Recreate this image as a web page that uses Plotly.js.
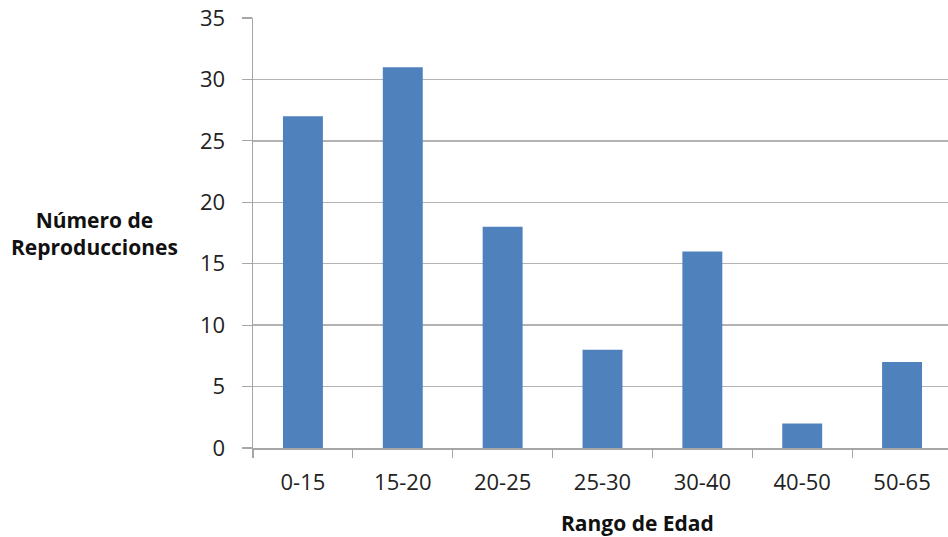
<!DOCTYPE html>
<html>
<head>
<meta charset="utf-8">
<script src="https://cdn.plot.ly/plotly-3.0.1.min.js"></script>
<style>
  html, body { margin: 0; padding: 0; background: #fff; }
  #chart { width: 948px; height: 537px; }
</style>
</head>
<body>
<div id="chart"></div>
<script>
// Age ranges and number of reproductions per range
const rangos = ['0-15', '15-20', '20-25', '25-30', '30-40', '40-50', '50-65'];
const reproducciones = [27, 31, 18, 8, 16, 2, 7];
const yTicks = [0, 5, 10, 15, 20, 25, 30, 35];

const fontFamily = 'Open Sans, Lato, sans-serif';

const trace = {
  type: 'bar',
  x: rangos,
  y: reproducciones,
  marker: { color: '#4F81BD' },
  hoverinfo: 'x+y'
};

const layout = {
  width: 948,
  height: 537,
  margin: { l: 253, r: 0, t: 18, b: 89, pad: 0 },
  paper_bgcolor: '#ffffff',
  plot_bgcolor: '#ffffff',
  showlegend: false,
  bargap: 0.6,
  font: { family: fontFamily, size: 22, color: '#222222' },
  xaxis: {
    type: 'category',
    // the last category runs slightly past the right edge of the page
    range: [-0.5, 6.46],
    showgrid: false,
    showline: true,
    linecolor: '#a6a6a6',
    linewidth: 1.5,
    ticks: 'outside',
    tickson: 'boundaries',
    ticklen: 8,
    tickcolor: '#a6a6a6',
    tickwidth: 1.2,
    ticklabelstandoff: 14,
    tickfont: { family: fontFamily, size: 22, color: '#222222' },
    zeroline: false
  },
  yaxis: {
    range: [0, 35],
    tickmode: 'array',
    tickvals: yTicks,
    ticktext: yTicks.map(String),
    showgrid: true,
    gridcolor: '#b3b3b3',
    gridwidth: 1.5,
    showline: true,
    linecolor: '#a6a6a6',
    linewidth: 1.5,
    ticks: 'outside',
    ticklen: 10,
    tickcolor: '#a6a6a6',
    tickwidth: 1.2,
    ticklabelstandoff: 12,
    tickfont: { family: fontFamily, size: 22, color: '#222222' },
    zeroline: false
  },
  annotations: [
    {
      text: '<b>Número de<br>Reproducciones</b>',
      xref: 'paper', yref: 'paper',
      x: -0.2285, y: 0.5,
      xanchor: 'center', yanchor: 'middle',
      showarrow: false,
      align: 'center',
      font: { family: fontFamily, size: 21, color: '#111111' }
    },
    {
      text: '<b>Rango de Edad</b>',
      xref: 'paper', yref: 'paper',
      x: 0.553, y: 0,
      yshift: -75,
      xanchor: 'center', yanchor: 'middle',
      showarrow: false,
      font: { family: fontFamily, size: 21, color: '#111111' }
    }
  ]
};

Plotly.newPlot('chart', [trace], layout, { displayModeBar: false, staticPlot: true });
</script>
</body>
</html>
